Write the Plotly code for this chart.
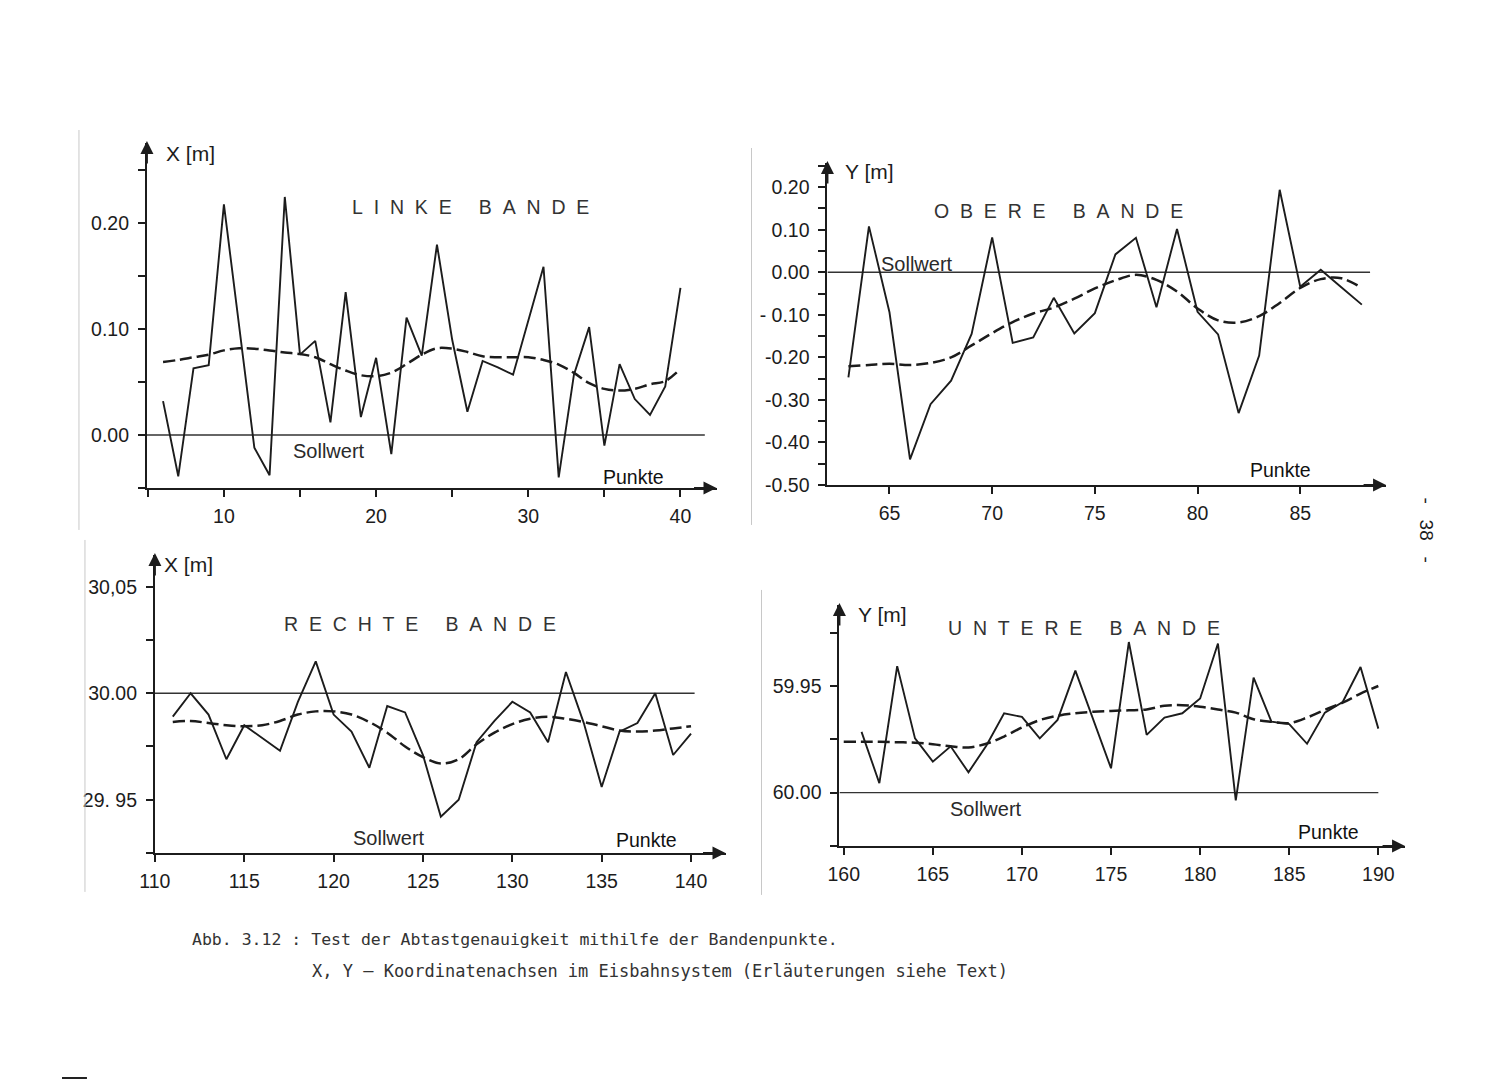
import plotly.graph_objects as go

W, H = 1500, 1089

# LINKE BANDE: Messwerte (ist) und geglaettete Kurve (glatt)
linke_x = list(range(6, 41))
linke_ist = [0.032, -0.039, 0.063, 0.066, 0.218, 0.105, -0.012, -0.038, 0.225, 0.076,
             0.089, 0.012, 0.135, 0.017, 0.073, -0.018, 0.111, 0.075, 0.180, 0.090,
             0.022, 0.070, 0.064, 0.057, 0.108, 0.159, -0.040, 0.057, 0.102, -0.010,
             0.067, 0.034, 0.019, 0.046, 0.139]
linke_glatt = [0.069, 0.071, 0.0735, 0.076, 0.080, 0.082, 0.0816, 0.080, 0.078, 0.0766,
               0.0735, 0.067, 0.061, 0.0565, 0.0556, 0.059, 0.067, 0.076, 0.082, 0.0816,
               0.0785, 0.0744, 0.0735, 0.0735, 0.0735, 0.071, 0.0666, 0.0587, 0.049, 0.0436,
               0.042, 0.0436, 0.048, 0.051, 0.0625]

# OBERE BANDE
obere_x = list(range(63, 89))
obere_ist = [-0.247, 0.108, -0.094, -0.440, -0.310, -0.255, -0.145, 0.082, -0.166, -0.153,
             -0.060, -0.144, -0.096, 0.042, 0.081, -0.082, 0.102, -0.093, -0.146, -0.331,
             -0.196, 0.194, -0.034, 0.006, -0.035, -0.076]
obere_glatt = [-0.221, -0.218, -0.215, -0.218, -0.213, -0.200, -0.172, -0.143, -0.117, -0.097,
               -0.083, -0.062, -0.038, -0.019, -0.006, -0.018, -0.045, -0.085, -0.113, -0.118,
               -0.103, -0.072, -0.037, -0.016, -0.014, -0.037]

# RECHTE BANDE
rechte_x = list(range(111, 141))
rechte_ist = [29.989, 30.000, 29.990, 29.969, 29.985, 29.979, 29.973, 29.996, 30.015, 29.990,
              29.982, 29.965, 29.994, 29.991, 29.971, 29.942, 29.950, 29.977, 29.987, 29.996,
              29.991, 29.977, 30.010, 29.986, 29.956, 29.982, 29.986, 30.000, 29.971, 29.981]
rechte_glatt = [29.9865, 29.987, 29.986, 29.985, 29.9845, 29.985, 29.987, 29.990, 29.9915, 29.9915,
                29.990, 29.9865, 29.9815, 29.975, 29.970, 29.967, 29.969, 29.976, 29.9815, 29.9855,
                29.988, 29.989, 29.988, 29.9865, 29.9845, 29.9825, 29.982, 29.9825, 29.9835, 29.9845]

# UNTERE BANDE
untere_x = list(range(161, 191))
untere_ist = [59.9715, 59.9956, 59.9407, 59.9746, 59.9855, 59.9783, 59.9905, 59.978, 59.9628, 59.9645,
              59.9746, 59.9659, 59.9428, 59.9657, 59.9886, 59.9294, 59.9729, 59.9648, 59.9628, 59.9559,
              59.9301, 60.0037, 59.9461, 59.9667, 59.9679, 59.9771, 59.9625, 59.9575, 59.9411, 59.970]
untere_glatt_x = list(range(160, 191))
untere_glatt = [59.9762, 59.9762, 59.9762, 59.9764, 59.9766, 59.9773, 59.9783, 59.9788, 59.9771, 59.9737,
                59.9695, 59.966, 59.964, 59.9628, 59.9621, 59.9617, 59.9614, 59.961, 59.9593, 59.959,
                59.9597, 59.961, 59.9625, 59.9656, 59.9668, 59.9674, 59.9648, 59.9612, 59.9578, 59.9536,
                59.950]

# Sollwert-Linien (Wert, x-Anfang, x-Ende)
linke_soll = [0.0, 4.94, 41.6]
obere_soll = [0.0, 61.98, 88.4]
rechte_soll = [30.00, 110.0, 140.2]
untere_soll = [60.00, 159.76, 190.0]

# Achsbeschriftungen
linke_yticks = [0.0, 0.1, 0.2]
linke_ytext = ["0.00", "0.10", "0.20"]
linke_xticks = [10, 20, 30, 40]
obere_yticks = [0.2, 0.1, 0.0, -0.1, -0.2, -0.3, -0.4, -0.5]
obere_ytext = ["0.20", "0.10", "0.00", "- 0.10", "-0.20", "-0.30", "-0.40", "-0.50"]
obere_xticks = [65, 70, 75, 80, 85]
rechte_yticks = [30.05, 30.00, 29.95]
rechte_ytext = ["30,05", "30.00", "29. 95"]
rechte_xticks = [110, 115, 120, 125, 130, 135, 140]
untere_yticks = [59.95, 60.00]
untere_ytext = ["59.95", "60.00"]
untere_xticks = [160, 165, 170, 175, 180, 185, 190]

FONT = "Liberation Sans"
CAPTION_FONT = "DejaVu Sans Mono"
INK = "#1c1c1c"
SP = "\u00a0"

# kleine Korrektur: Seitenpixel -> Papierkoordinaten (die Aufnahme wird leicht verschoben/gestaucht)
SHIFT_X, SCALE = 14, 0.99


def px(x):
    return (x - SHIFT_X) / SCALE / W


def py(y):
    return 1 - min(y / SCALE, H) / H


def spaced(word_list):
    return (SP * 5).join((SP * 2).join(w) for w in word_list)


panels = [
    dict(x=linke_x, ist=linke_ist, gx=linke_x, glatt=linke_glatt, soll=linke_soll,
         box=(145, 715, 143, 488), xr=[4.94, 42.37], yr=[-0.05, 0.276],
         xt=linke_xticks, xminor=5, yt=linke_yticks, ytt=linke_ytext, yminor=0.05,
         ylab="X [m]", ylab_at=(162, 154), title=["LINKE", "BANDE"], title_at=(348, 207),
         soll_at=(289, 451), punkte_at=(599, 477)),
    dict(x=obere_x, ist=obere_ist, gx=obere_x, glatt=obere_glatt, soll=obere_soll,
         box=(826, 1385, 163, 485), xr=[61.98, 89.18], yr=[-0.50, 0.257],
         xt=obere_xticks, xminor=None, yt=obere_yticks, ytt=obere_ytext, yminor=0.05,
         ylab="Y [m]", ylab_at=(842, 172), title=["OBERE", "BANDE"], title_at=(931, 211),
         soll_at=(878, 264), punkte_at=(1247, 470)),
    dict(x=rechte_x, ist=rechte_ist, gx=rechte_x, glatt=rechte_glatt, soll=rechte_soll,
         box=(153, 724, 555, 853), xr=[110.0, 141.93], yr=[29.925, 30.065],
         xt=rechte_xticks, xminor=None, yt=rechte_yticks, ytt=rechte_ytext, yminor=0.025,
         ylab="X [m]", ylab_at=(160, 565), title=["RECHTE", "BANDE"], title_at=(280, 624),
         soll_at=(349, 838), punkte_at=(612, 840)),
    dict(x=untere_x, ist=untere_ist, gx=untere_glatt_x, glatt=untere_glatt, soll=untere_soll,
         box=(838, 1404, 605, 846), xr=[159.76, 191.5], yr=[60.025, 59.912],
         xt=untere_xticks, xminor=None, yt=untere_yticks, ytt=untere_ytext, yminor=0.025,
         ylab="Y [m]", ylab_at=(855, 615), title=["UNTERE", "BANDE"], title_at=(945, 628),
         soll_at=(947, 809), punkte_at=(1295, 832)),
]

fig = go.Figure()
annotations = []
layout_axes = {}

for i, p in enumerate(panels, start=1):
    xa = "x" if i == 1 else f"x{i}"
    ya = "y" if i == 1 else f"y{i}"
    x0, x1, ytop, ybot = p["box"]

    fig.add_trace(go.Scatter(x=[p["soll"][1], p["soll"][2]], y=[p["soll"][0]] * 2,
                             mode="lines", line=dict(color="#333333", width=1.4),
                             xaxis=xa, yaxis=ya, hoverinfo="skip"))
    fig.add_trace(go.Scatter(x=p["gx"], y=p["glatt"], mode="lines",
                             line=dict(color=INK, width=2.5, dash="12px,5px", shape="spline"),
                             xaxis=xa, yaxis=ya))
    fig.add_trace(go.Scatter(x=p["x"], y=p["ist"], mode="lines",
                             line=dict(color=INK, width=1.9),
                             xaxis=xa, yaxis=ya))

    common = dict(showline=True, linecolor=INK, linewidth=2, showgrid=False, zeroline=False,
                  ticks="outside", ticklen=7, tickwidth=1.5, tickcolor=INK,
                  tickfont=dict(family=FONT, size=19.5, color=INK))
    xaxis = dict(common, domain=[px(x0), px(x1)], range=p["xr"], anchor=ya,
                 tickmode="array", tickvals=p["xt"], ticklabelstandoff=3)
    if p["xminor"]:
        xaxis["minor"] = dict(ticks="outside", dtick=p["xminor"], tick0=0, ticklen=7,
                              tickwidth=1.5, tickcolor=INK)
    yaxis = dict(common, domain=[py(ybot), py(ytop)], range=p["yr"], anchor=xa,
                 tickmode="array", tickvals=p["yt"], ticktext=p["ytt"], ticklabelstandoff=5,
                 minor=dict(ticks="outside", dtick=p["yminor"], tick0=p["yt"][0], ticklen=7,
                            tickwidth=1.5, tickcolor=INK))
    layout_axes["xaxis" if i == 1 else f"xaxis{i}"] = xaxis
    layout_axes["yaxis" if i == 1 else f"yaxis{i}"] = yaxis

    # Pfeilspitzen an den Achsenenden
    annotations.append(dict(x=px(x0), y=py(ytop - 2), xref="paper", yref="paper", text="",
                            showarrow=True, ax=0, ay=24, arrowhead=2, arrowsize=1.3,
                            arrowwidth=2, arrowcolor=INK))
    annotations.append(dict(x=px(x1), y=py(ybot), xref="paper", yref="paper", text="",
                            showarrow=True, ax=-24, ay=0, arrowhead=2, arrowsize=1.3,
                            arrowwidth=2, arrowcolor=INK))

    texts = [
        (p["ylab"], p["ylab_at"], 21, INK),
        (spaced(p["title"]), p["title_at"], 19.5, "#333333"),
        ("Sollwert", p["soll_at"], 20, "#2a2a2a"),
        ("Punkte", p["punkte_at"], 19.5, "#111111"),
    ]
    for txt, (tx, ty), size, col in texts:
        annotations.append(dict(x=px(tx), y=py(ty), xref="paper", yref="paper", text=txt,
                                showarrow=False, xanchor="left", yanchor="middle",
                                font=dict(family=FONT, size=size, color=col)))

# Bildunterschrift und Seitenzahl
annotations.append(dict(x=px(188), y=py(940), xref="paper", yref="paper",
                        text="Abb. 3.12 : Test der Abtastgenauigkeit mithilfe der Bandenpunkte.",
                        showarrow=False, xanchor="left", yanchor="middle",
                        font=dict(family=CAPTION_FONT, size=16.5, color="#333333")))
annotations.append(dict(x=px(308), y=py(971), xref="paper", yref="paper",
                        text="X, Y \u2013 Koordinatenachsen im Eisbahnsystem (Erläuterungen siehe Text)",
                        showarrow=False, xanchor="left", yanchor="middle",
                        font=dict(family=CAPTION_FONT, size=17, color="#333333")))
annotations.append(dict(x=px(1438), y=py(530), xref="paper", yref="paper",
                        text=f"-{SP * 3}38{SP * 3}-", textangle=90, showarrow=False,
                        font=dict(family=FONT, size=19, color=INK)))

# Kanten der eingeklebten Abbildungen
edges = [(77, 130, 530), (750, 148, 525), (83, 540, 892), (760, 590, 895)]
shapes = [dict(type="line", xref="paper", yref="paper", x0=px(ex), x1=px(ex),
               y0=py(e0), y1=py(e1), line=dict(color="#c8c8c8", width=1))
          for ex, e0, e1 in edges]
shapes.append(dict(type="line", xref="paper", yref="paper", x0=px(60), x1=px(85),
                   y0=py(1080), y1=py(1080), line=dict(color="#222222", width=2)))

fig.update_layout(width=W, height=H, margin=dict(l=0, r=0, t=0, b=0),
                  paper_bgcolor="white", plot_bgcolor="rgba(0,0,0,0)",
                  showlegend=False, annotations=annotations, shapes=shapes, **layout_axes)

fig.write_html("out.html", config={"displayModeBar": False},
               post_script="document.body.style.margin='0px';document.body.style.overflow='hidden';")
